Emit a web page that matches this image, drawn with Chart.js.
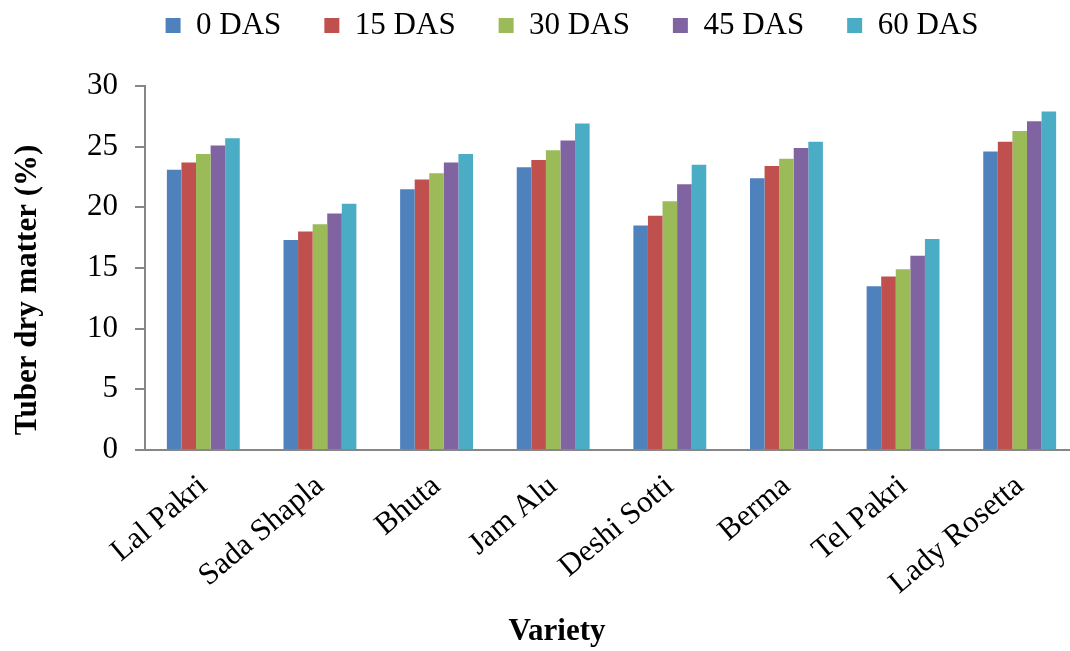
<!DOCTYPE html>
<html>
<head>
<meta charset="utf-8">
<script src="https://cdn.jsdelivr.net/npm/chart.js@4/dist/chart.umd.min.js"></script>
<style>
  html, body { margin: 0; padding: 0; background: #fff; overflow: hidden; }
  #wrap { width: 1078px; height: 651px; }
</style>
</head>
<body>
<div id="wrap"><canvas id="chart" width="1078" height="651"></canvas></div>
<script>
const varieties = ['Lal Pakri', 'Sada Shapla', 'Bhuta', 'Jam Alu', 'Deshi Sotti', 'Berma', 'Tel Pakri', 'Lady Rosetta']
const seriesNames = ['0 DAS', '15 DAS', '30 DAS', '45 DAS', '60 DAS']

const das0 = [23.1, 17.3, 21.5, 23.3, 18.5, 22.4, 13.5, 24.6]
const das15 = [23.7, 18.0, 22.3, 23.9, 19.3, 23.4, 14.3, 25.4]
const das30 = [24.4, 18.6, 22.8, 24.7, 20.5, 24.0, 14.9, 26.3]
const das45 = [25.1, 19.5, 23.7, 25.5, 21.9, 24.9, 16.0, 27.1]
const das60 = [25.7, 20.3, 24.4, 26.9, 23.5, 25.4, 17.4, 27.9]

const xTitle = 'Variety'
const yTitle = 'Tuber dry matter (%)'

const colors = ['#4F81BD', '#C0504D', '#9BBB59', '#8064A2', '#4BACC6']
const allValues = [das0, das15, das30, das45, das60]

const serif = 'Liberation Serif'
const axisGray = '#868686'
const fontSize = 31

const datasets = allValues.map((values, i) => ({
  label: seriesNames[i],
  data: values,
  backgroundColor: colors[i],
  borderWidth: 0,
  categoryPercentage: 0.625,
  barPercentage: 1.0,
}))

// legend: fixed height so the plot starts lower, moved up and to the right
const legendTweak = {
  id: 'legendTweak',
  beforeInit(chart) {
    const fit = chart.legend.fit
    chart.legend.fit = function () {
      fit.call(this)
      this.height = 86
    }
  },
  afterLayout(chart) {
    const legend = chart.legend
    legend.left += 33
    legend.right += 33
    legend.top -= 33
    legend.bottom -= 33
  },
}

// axis titles placed like the original (centred on the figure, not the plot)
const axisTitles = {
  id: 'axisTitles',
  afterDraw(chart) {
    const ctx = chart.ctx
    ctx.save()
    ctx.fillStyle = '#000'
    ctx.font = `bold ${fontSize}px "${serif}"`
    ctx.textAlign = 'center'
    ctx.textBaseline = 'middle'
    ctx.fillText(xTitle, 557, 632)
    ctx.translate(28, 290)
    ctx.rotate(-Math.PI / 2)
    ctx.fillText(yTitle, 0, 0)
    ctx.restore()
  },
}

new Chart(document.getElementById('chart'), {
  type: 'bar',
  data: { labels: varieties, datasets: datasets },
  options: {
    responsive: false,
    animation: false,
    layout: { padding: 0 },
    plugins: {
      legend: {
        position: 'top',
        labels: {
          font: { family: serif, size: fontSize },
          color: '#000',
          boxWidth: 15,
          boxHeight: 15,
          padding: 43,
        },
      },
      tooltip: { enabled: false },
    },
    scales: {
      x: {
        afterFit: (scale) => { scale.height = 201 },
        grid: { display: false },
        border: { color: axisGray, width: 2 },
        ticks: {
          font: { family: serif, size: fontSize },
          color: '#000',
          minRotation: 40,
          maxRotation: 40,
          padding: 10,
          autoSkip: false,
        },
      },
      y: {
        min: 0,
        max: 30,
        afterFit: (scale) => { scale.width = 145 },
        grid: {
          drawOnChartArea: false,
          drawTicks: true,
          tickLength: 10,
          color: axisGray,
          lineWidth: 2,
        },
        border: { color: axisGray, width: 2 },
        ticks: {
          stepSize: 5,
          font: { family: serif, size: fontSize },
          color: '#000',
          padding: 17,
        },
      },
    },
  },
  plugins: [legendTweak, axisTitles],
})
</script>
</body>
</html>
